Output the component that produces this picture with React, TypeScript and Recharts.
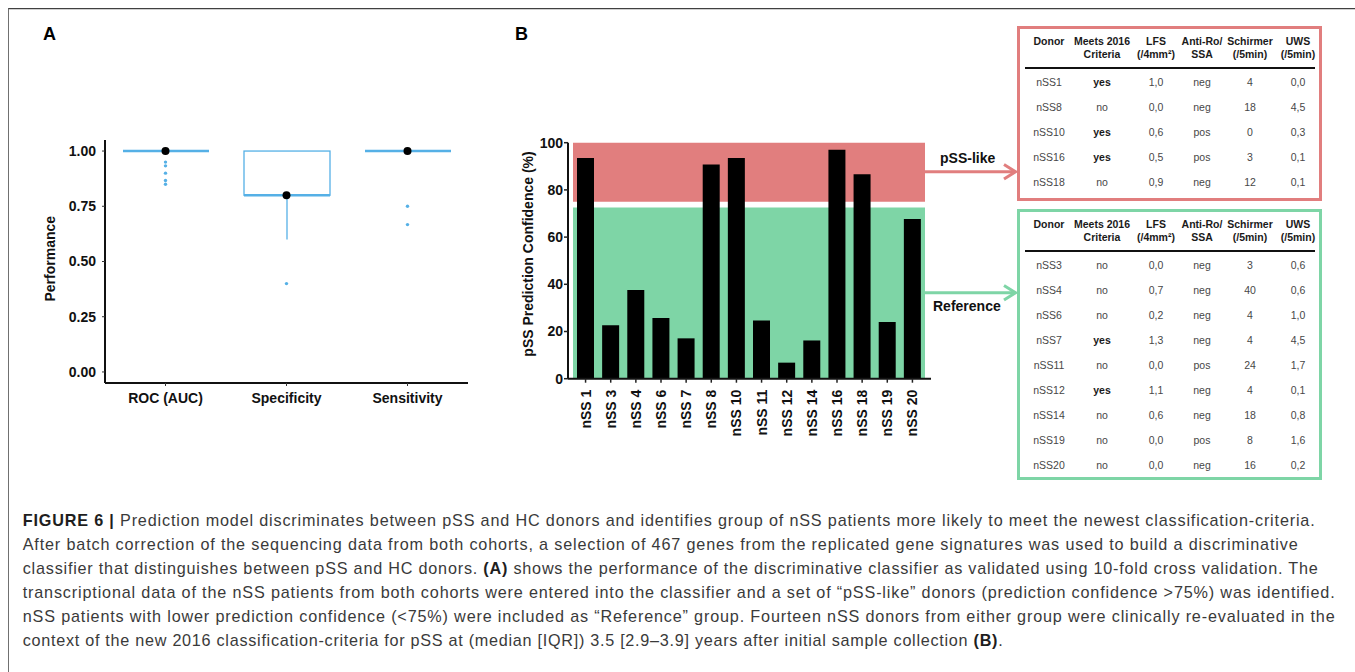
import React from 'react';
import { ComposedChart, BarChart, Bar, Scatter, XAxis, YAxis, ReferenceArea } from 'recharts';

// ---- panel A: classifier performance (10-fold CV) ----
const perfCategories = ['ROC (AUC)', 'Specificity', 'Sensitivity'];
const perfQ1 = [1, 0.8, 1];
const perfMedian = [1, 0.8, 1];
const perfQ3 = [1, 1, 1];
const perfWhiskerLow = [1, 0.6, 1];
const perfWhiskerHigh = [1, 1, 1];
const perfCenter = [1, 0.8, 1];
const perfOutliers = [[0.95, 0.933, 0.9, 0.867, 0.85], [0.4], [0.75, 0.667]];
const perfTicks = [0, 0.25, 0.5, 0.75, 1];

// ---- panel B: prediction confidence of nSS donors ----
const donors = ['nSS 1', 'nSS 3', 'nSS 4', 'nSS 6', 'nSS 7', 'nSS 8', 'nSS 10', 'nSS 11', 'nSS 12', 'nSS 14', 'nSS 16', 'nSS 18', 'nSS 19', 'nSS 20'];
const confidence = [93.5, 22.6, 37.6, 25.7, 17.1, 90.8, 93.5, 24.7, 6.8, 16.2, 97.0, 86.6, 24.0, 67.7];
const confTicks = [0, 20, 40, 60, 80, 100];
const pssLikeBand = [75, 100];
const referenceBand = [0, 72.5];

// ---- tables ----
const headerLine1 = ['Donor', 'Meets 2016', 'LFS', 'Anti-Ro/', 'Schirmer', 'UWS'];
const headerLine2 = ['', 'Criteria', '(/4mm\u00b2)', 'SSA', '(/5min)', '(/5min)'];
const pssLikeRows = [
  ['nSS1', 'yes', '1,0', 'neg', '4', '0,0'],
  ['nSS8', 'no', '0,0', 'neg', '18', '4,5'],
  ['nSS10', 'yes', '0,6', 'pos', '0', '0,3'],
  ['nSS16', 'yes', '0,5', 'pos', '3', '0,1'],
  ['nSS18', 'no', '0,9', 'neg', '12', '0,1'],
];
const referenceRows = [
  ['nSS3', 'no', '0,0', 'neg', '3', '0,6'],
  ['nSS4', 'no', '0,7', 'neg', '40', '0,6'],
  ['nSS6', 'no', '0,2', 'neg', '4', '1,0'],
  ['nSS7', 'yes', '1,3', 'neg', '4', '4,5'],
  ['nSS11', 'no', '0,0', 'pos', '24', '1,7'],
  ['nSS12', 'yes', '1,1', 'neg', '4', '0,1'],
  ['nSS14', 'no', '0,6', 'neg', '18', '0,8'],
  ['nSS19', 'no', '0,0', 'pos', '8', '1,6'],
  ['nSS20', 'no', '0,0', 'neg', '16', '0,2'],
];

const FONT = '"Liberation Sans", Arial, Helvetica, sans-serif';
const BLUE = '#55b0e6';
const RED = '#e17e7e';
const GREEN = '#7ed5a6';
const INK = '#111';

const perfData = perfCategories.map((name, i) => ({
  name,
  box: [perfQ1[i], perfQ3[i]],
  median: [perfMedian[i], perfMedian[i]],
  whiskerLow: [perfWhiskerLow[i], perfQ1[i]],
  whiskerHigh: [perfQ3[i], perfWhiskerHigh[i]],
}));
const outlierData = perfCategories.flatMap((name, i) => perfOutliers[i].map((value) => ({ name, value })));
const centerData = perfCategories.map((name, i) => ({ name, value: perfCenter[i] }));
const confData = donors.map((name, i) => ({ name, value: confidence[i] }));

const BoxShape = (p: any) =>
  p.height > 0.5 ? (
    <rect x={p.x} y={p.y} width={p.width} height={p.height} fill="none" stroke={BLUE} strokeWidth={1.3} />
  ) : null;
const MedianShape = (p: any) => (
  <line x1={p.x} x2={p.x + p.width} y1={p.y} y2={p.y} stroke={BLUE} strokeWidth={2.6} />
);
const WhiskerShape = (p: any) =>
  p.height > 0.5 ? (
    <line x1={p.x + p.width / 2} x2={p.x + p.width / 2} y1={p.y} y2={p.y + p.height} stroke={BLUE} strokeWidth={1.3} />
  ) : null;
const OutlierDot = (p: any) => <circle cx={p.cx} cy={p.cy} r={1.7} fill={BLUE} />;
const CenterDot = (p: any) => <circle cx={p.cx} cy={p.cy} r={4} fill="#000" />;

const axisTick = { fontFamily: FONT, fontSize: 14, fontWeight: 700, fill: INK };

const VerticalTitle = (props: any) => {
  const { viewBox, text, dx, dy } = props;
  const cx = viewBox.x + dx;
  const cy = viewBox.y + viewBox.height / 2 + dy;
  return (
    <text x={cx} y={cy} transform={`rotate(-90 ${cx} ${cy})`} textAnchor="middle" dominantBaseline="central"
      style={{ fontFamily: FONT, fontSize: 14, fontWeight: 700, fill: INK }}>
      {text}
    </text>
  );
};

const DonorTick = (props: any) => {
  const { x, y, payload } = props;
  return (
    <g transform={`translate(${x},${y})`}>
      <text transform="rotate(-90)" textAnchor="end" dy="0.36em" style={axisTick}>{payload.value}</text>
    </g>
  );
};

const COLS = [32, 85, 139, 185, 233, 281];

function DonorTable({ top, height, color, rows }: { top: number; height: number; color: string; rows: string[][] }) {
  const cell = (text: string, cx: number, cy: number, bold: boolean, colour: string, key: string) => (
    <div key={key} style={{
      position: 'absolute', left: cx - 40, width: 80, top: cy - 7, height: 14, lineHeight: '14px',
      textAlign: 'center', fontSize: 10.5, fontWeight: bold ? 700 : 400, color: colour, whiteSpace: 'nowrap',
    }}>{text}</div>
  );
  return (
    <div style={{ position: 'absolute', left: 1017, top, width: 305, height, fontFamily: FONT }}>
      <div style={{ position: 'absolute', inset: 0, border: `3px solid ${color}`, boxSizing: 'border-box' }} />
      {headerLine1.map((t, j) => cell(t, COLS[j], 14.5, true, '#1a1a1a', `h1-${j}`))}
      {headerLine2.map((t, j) => cell(t, COLS[j], 28, true, '#1a1a1a', `h2-${j}`))}
      <div style={{ position: 'absolute', left: 8, width: 290, top: 41, height: 1.5, background: '#111' }} />
      {rows.map((r, i) => r.map((t, j) => cell(t, COLS[j], 55.5 + i * 25, t === 'yes', t === 'yes' ? '#1a1a1a' : '#474747', `r${i}-${j}`)))}
    </div>
  );
}

const captionLines: { parts: [string, boolean][]; width: number }[] = [
  { parts: [['FIGURE 6 |', true], [' Prediction model discriminates between pSS and HC donors and identifies group of nSS patients more likely to meet the newest classification-criteria.', false]], width: 1292 },
  { parts: [['After batch correction of the sequencing data from both cohorts, a selection of 467 genes from the replicated gene signatures was used to build a discriminative', false]], width: 1275 },
  { parts: [['classifier that distinguishes between pSS and HC donors. ', false], ['(A)', true], [' shows the performance of the discriminative classifier as validated using 10-fold cross validation. The', false]], width: 1295 },
  { parts: [['transcriptional data of the nSS patients from both cohorts were entered into the classifier and a set of \u201cpSS-like\u201d donors (prediction confidence >75%) was identified.', false]], width: 1312 },
  { parts: [['nSS patients with lower prediction confidence (<75%) were included as \u201cReference\u201d group. Fourteen nSS donors from either group were clinically re-evaluated in the', false]], width: 1312 },
  { parts: [['context of the new 2016 classification-criteria for pSS at (median [IQR]) 3.5 [2.9\u20133.9] years after initial sample collection ', false], ['(B)', true], ['.', false]], width: 980 },
];

export default function App() {
  return (
    <div style={{ position: 'absolute', left: 0, top: 0, width: 1355, height: 672, overflow: 'hidden', background: '#fff', fontFamily: FONT }}>
      {/* figure frame */}
      <div style={{ position: 'absolute', left: 8, top: 8, width: 1400, height: 700, borderTop: '1px solid #404040', borderLeft: '1px solid #707070' }} />
      <div style={{ position: 'absolute', left: 9, top: 9, width: 1400, height: 1, background: '#cfcfcf' }} />

      {/* panel A */}
      <div style={{ position: 'absolute', left: 0, top: 100 }}>
        <ComposedChart width={500} height={340} data={perfData} margin={{ top: 40, right: 32, bottom: 27, left: 45 }}>
          <XAxis xAxisId="box" dataKey="name" type="category" allowDuplicatedCategory={false} height={30}
            tick={axisTick} tickSize={3} tickMargin={7} axisLine={{ stroke: INK, strokeWidth: 2 }} tickLine={{ stroke: '#333' }} />
          <XAxis xAxisId="med" dataKey="name" hide />
          <XAxis xAxisId="wlo" dataKey="name" hide />
          <XAxis xAxisId="whi" dataKey="name" hide />
          <YAxis dataKey="value" type="number" domain={[-0.05, 1.05]} ticks={perfTicks} width={60}
            tickFormatter={(v: number) => v.toFixed(2)} tick={axisTick} tickSize={3} tickMargin={6}
            axisLine={{ stroke: INK, strokeWidth: 2 }} tickLine={{ stroke: '#333' }}
            label={(p: any) => <VerticalTitle {...p} text="Performance" dx={4.7} dy={-2.8} />} />
          <Bar xAxisId="box" dataKey="box" barSize={86} shape={BoxShape} isAnimationActive={false} />
          <Bar xAxisId="wlo" dataKey="whiskerLow" barSize={86} shape={WhiskerShape} isAnimationActive={false} />
          <Bar xAxisId="whi" dataKey="whiskerHigh" barSize={86} shape={WhiskerShape} isAnimationActive={false} />
          <Bar xAxisId="med" dataKey="median" barSize={86} shape={MedianShape} isAnimationActive={false} />
          <Scatter xAxisId="box" data={outlierData} dataKey="value" shape={OutlierDot} isAnimationActive={false} />
          <Scatter xAxisId="box" data={centerData} dataKey="value" shape={CenterDot} isAnimationActive={false} />
        </ComposedChart>
      </div>

      {/* panel B */}
      <div style={{ position: 'absolute', left: 480, top: 100 }}>
        <BarChart width={480} height={360} data={confData} margin={{ top: 42.7, right: 29, bottom: 21.3, left: 38 }}>
          <ReferenceArea x1={donors[0]} x2={donors[donors.length - 1]} y1={pssLikeBand[0]} y2={pssLikeBand[1]}
            fill={RED} fillOpacity={1} stroke="none" />
          <ReferenceArea x1={donors[0]} x2={donors[donors.length - 1]} y1={referenceBand[0]} y2={referenceBand[1]}
            fill={GREEN} fillOpacity={1} stroke="none" />
          <XAxis dataKey="name" padding={{ left: 5, right: 6 }} height={60} interval={0} tick={<DonorTick />}
            tickSize={4} tickMargin={7} axisLine={{ stroke: INK, strokeWidth: 2 }} tickLine={{ stroke: '#222', strokeWidth: 1.5 }} />
          <YAxis type="number" domain={[0, 100]} ticks={confTicks} width={50} tick={axisTick} tickSize={4} tickMargin={1}
            axisLine={{ stroke: INK, strokeWidth: 2 }} tickLine={{ stroke: '#222', strokeWidth: 1.5 }}
            label={(p: any) => <VerticalTitle {...p} text="pSS Prediction Confidence (%)" dx={10} dy={-6.7} />} />
          <Bar dataKey="value" fill="#000" barSize={17} isAnimationActive={false} />
        </BarChart>
      </div>

      {/* annotations: panel letters and group arrows */}
      <svg width={1355} height={672} style={{ position: 'absolute', left: 0, top: 0, pointerEvents: 'none' }}>
        <text x={43} y={40} style={{ fontFamily: FONT, fontSize: 18, fontWeight: 700, fill: '#000' }}>A</text>
        <text x={515} y={40} style={{ fontFamily: FONT, fontSize: 18, fontWeight: 700, fill: '#000' }}>B</text>
        <line x1={925} x2={1015} y1={171.7} y2={171.7} stroke={RED} strokeWidth={3} />
        <polyline points="1004,164.5 1015.5,171.7 1004,179" fill="none" stroke={RED} strokeWidth={3} />
        <line x1={925} x2={1015} y1={292.7} y2={292.7} stroke={GREEN} strokeWidth={3} />
        <polyline points="1004,285.5 1015.5,292.7 1004,300" fill="none" stroke={GREEN} strokeWidth={3} />
        <text x={940} y={163.3} style={{ fontFamily: FONT, fontSize: 14, fontWeight: 700, fill: INK }}>pSS-like</text>
        <text x={933} y={311} style={{ fontFamily: FONT, fontSize: 14, fontWeight: 700, fill: INK }}>Reference</text>
      </svg>

      <DonorTable top={26} height={175} color={RED} rows={pssLikeRows} />
      <DonorTable top={209} height={271} color={GREEN} rows={referenceRows} />

      {/* caption */}
      <svg width={1355} height={180} style={{ position: 'absolute', left: 0, top: 490 }}>
        {captionLines.map((line, i) => (
          <text key={i} x={22.7} y={36 + i * 23.9} textLength={line.width} lengthAdjust="spacing"
            style={{ fontFamily: FONT, fontSize: 16.2, fill: '#3a3a3a', whiteSpace: 'pre' }}>
            {line.parts.map(([t, b], k) => (
              <tspan key={k} style={{ fontWeight: b ? 700 : 400, fill: b ? '#1e1e1e' : '#3a3a3a' }}>{t}</tspan>
            ))}
          </text>
        ))}
      </svg>
    </div>
  );
}
